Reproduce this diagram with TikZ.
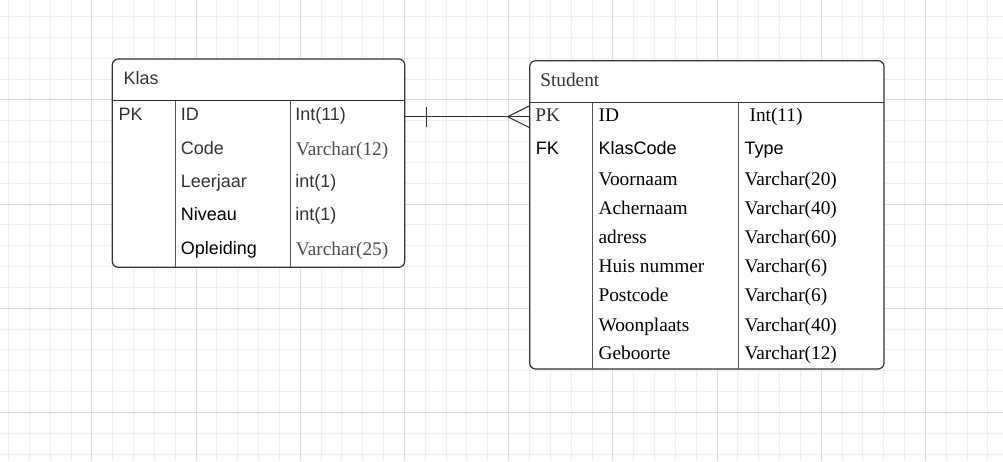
\documentclass[tikz,border=0pt]{standalone}
\usepackage{fontspec}
\setmainfont{Liberation Serif}
\setsansfont{Liberation Sans}
\usetikzlibrary{positioning,calc,fit}

\definecolor{gridminor}{HTML}{EDEDED}
\definecolor{gridmajor}{HTML}{DCDCDC}
\definecolor{linegray}{HTML}{333333}
\definecolor{colgray}{HTML}{555555}
\definecolor{textgray}{HTML}{333333}
\definecolor{typegray}{HTML}{4D4D4D}

\begin{document}
\begin{tikzpicture}[x=0.75pt,y=-0.75pt,
    tablebox/.style={draw=linegray,fill=white,line width=0.9pt,rounded corners=4.5pt,inner sep=0pt},
    tableline/.style={draw=linegray,line width=0.8pt},
    colline/.style={draw=colgray,line width=0.75pt},
    sanstxt/.style={font=\sffamily\fontsize{13.5}{16}\selectfont,anchor=base west,inner sep=0pt},
    sertxt/.style={font=\rmfamily\fontsize{14.5}{17}\selectfont,anchor=base west,inner sep=0pt},
    relline/.style={draw=linegray,line width=0.8pt}]
    \useasboundingbox (0,0) rectangle (1003,461);

    % Background grid
    \foreach \i in {0,...,47}
        \draw[gridminor,line width=0.75pt] ({8.5+20.84*\i},0) -- ({8.5+20.84*\i},461);
    \foreach \j in {0,...,21}
        \draw[gridminor,line width=0.75pt] (0,{16.5+20.84*\j}) -- (1003,{16.5+20.84*\j});
    \foreach \i in {0,...,8}
        \draw[gridmajor,line width=0.75pt] ({91.86+104.2*\i},0) -- ({91.86+104.2*\i},461);
    \foreach \j in {0,...,3}
        \draw[gridmajor,line width=0.75pt] (0,{99.86+104.2*\j}) -- (1003,{99.86+104.2*\j});

    % Klas table
    \node[tablebox,fit={(112.3,59) (404.7,267.3)}] (klas) {};
    \draw[tableline] (112.3,100.7) -- (404.7,100.7);
    \draw[colline] (175.5,100.7) -- (175.5,267.3);
    \draw[colline] (290,100.7) -- (290,267.3);
    \node[sanstxt,text=textgray] (klas-title) at (123.3,84) {Klas};

    \node[sanstxt,text=textgray] (klas-pk) at (118.3,120.7) {PK};
    \node[sanstxt,text=textgray] (klas-id) at (180.7,120.7) {ID};
    \node[sanstxt,text=textgray] (klas-idtype) at (295,120.7) {Int(11)};
    \node[sanstxt,text=textgray] (klas-code) at (180.7,154.1) {Code};
    \node[sertxt,text=typegray] (klas-codetype) at (295.7,155.3) {Varchar(12)};
    \node[sanstxt,text=textgray] (klas-jaar) at (180.7,187.5) {Leerjaar};
    \node[sanstxt,text=textgray] (klas-jaartype) at (295,187.5) {int(1)};
    \node[sanstxt] (klas-niveau) at (180.7,220.9) {Niveau};
    \node[sanstxt,text=textgray] (klas-niveautype) at (295,220.9) {int(1)};
    \node[sanstxt] (klas-opl) at (180.7,254.3) {Opleiding};
    \node[sertxt,text=typegray] (klas-opltype) at (295.7,255.5) {Varchar(25)};

    % Student table
    \node[tablebox,fit={(529.7,60.7) (884,369)}] (student) {};
    \draw[tableline] (529.7,102.7) -- (884,102.7);
    \draw[colline] (592.5,102.7) -- (592.5,369);
    \draw[colline] (738.5,102.7) -- (738.5,369);
    \node[sertxt,text=textgray] (student-title) at (540,86) {Student};

    \node[sertxt,text=textgray] (student-pk) at (535,121.7) {PK};
    \node[sertxt] (student-id) at (598.3,121.7) {ID};
    \node[sertxt] (student-idtype) at (749.3,121.7) {Int(11)};
    \node[sanstxt,text=black] (student-fk) at (535.5,154) {FK};
    \node[sanstxt,text=black] (student-klas) at (598.3,154) {KlasCode};
    \node[sanstxt,text=black] (student-klastype) at (744.3,154) {Type};
    \node[sertxt] (student-voor) at (598.3,185) {Voornaam};
    \node[sertxt] (student-voortype) at (744.3,185) {Varchar(20)};
    \node[sertxt] (student-achter) at (598.3,214) {Achernaam};
    \node[sertxt] (student-achtertype) at (744.3,214) {Varchar(40)};
    \node[sertxt] (student-adres) at (598.3,243.3) {adress};
    \node[sertxt] (student-adrestype) at (744.3,243.3) {Varchar(60)};
    \node[sertxt] (student-huis) at (598.3,272.7) {Huis nummer};
    \node[sertxt] (student-huistype) at (744.3,272.7) {Varchar(6)};
    \node[sertxt] (student-post) at (598.3,301.7) {Postcode};
    \node[sertxt] (student-posttype) at (744.3,301.7) {Varchar(6)};
    \node[sertxt] (student-woon) at (598.3,331) {Woonplaats};
    \node[sertxt] (student-woontype) at (744.3,331) {Varchar(40)};
    \node[sertxt] (student-geb) at (598.3,359.3) {Geboorte};
    \node[sertxt] (student-gebtype) at (744.3,359.3) {Varchar(12)};

    % One Klas to many Students
    \coordinate (klas-link) at (klas.east |- 0,116.7);
    \coordinate (student-link) at (student.west |- 0,116.7);
    \draw[relline] (klas-link) -- (student-link);
    \draw[relline] ($(klas-link)+(21,-10)$) -- ($(klas-link)+(21,10.6)$);
    \draw[relline] ($(student-link)+(0,-10.7)$) -- ($(student-link)+(-21.4,0)$) -- ($(student-link)+(0,10.7)$);
\end{tikzpicture}
\end{document}
